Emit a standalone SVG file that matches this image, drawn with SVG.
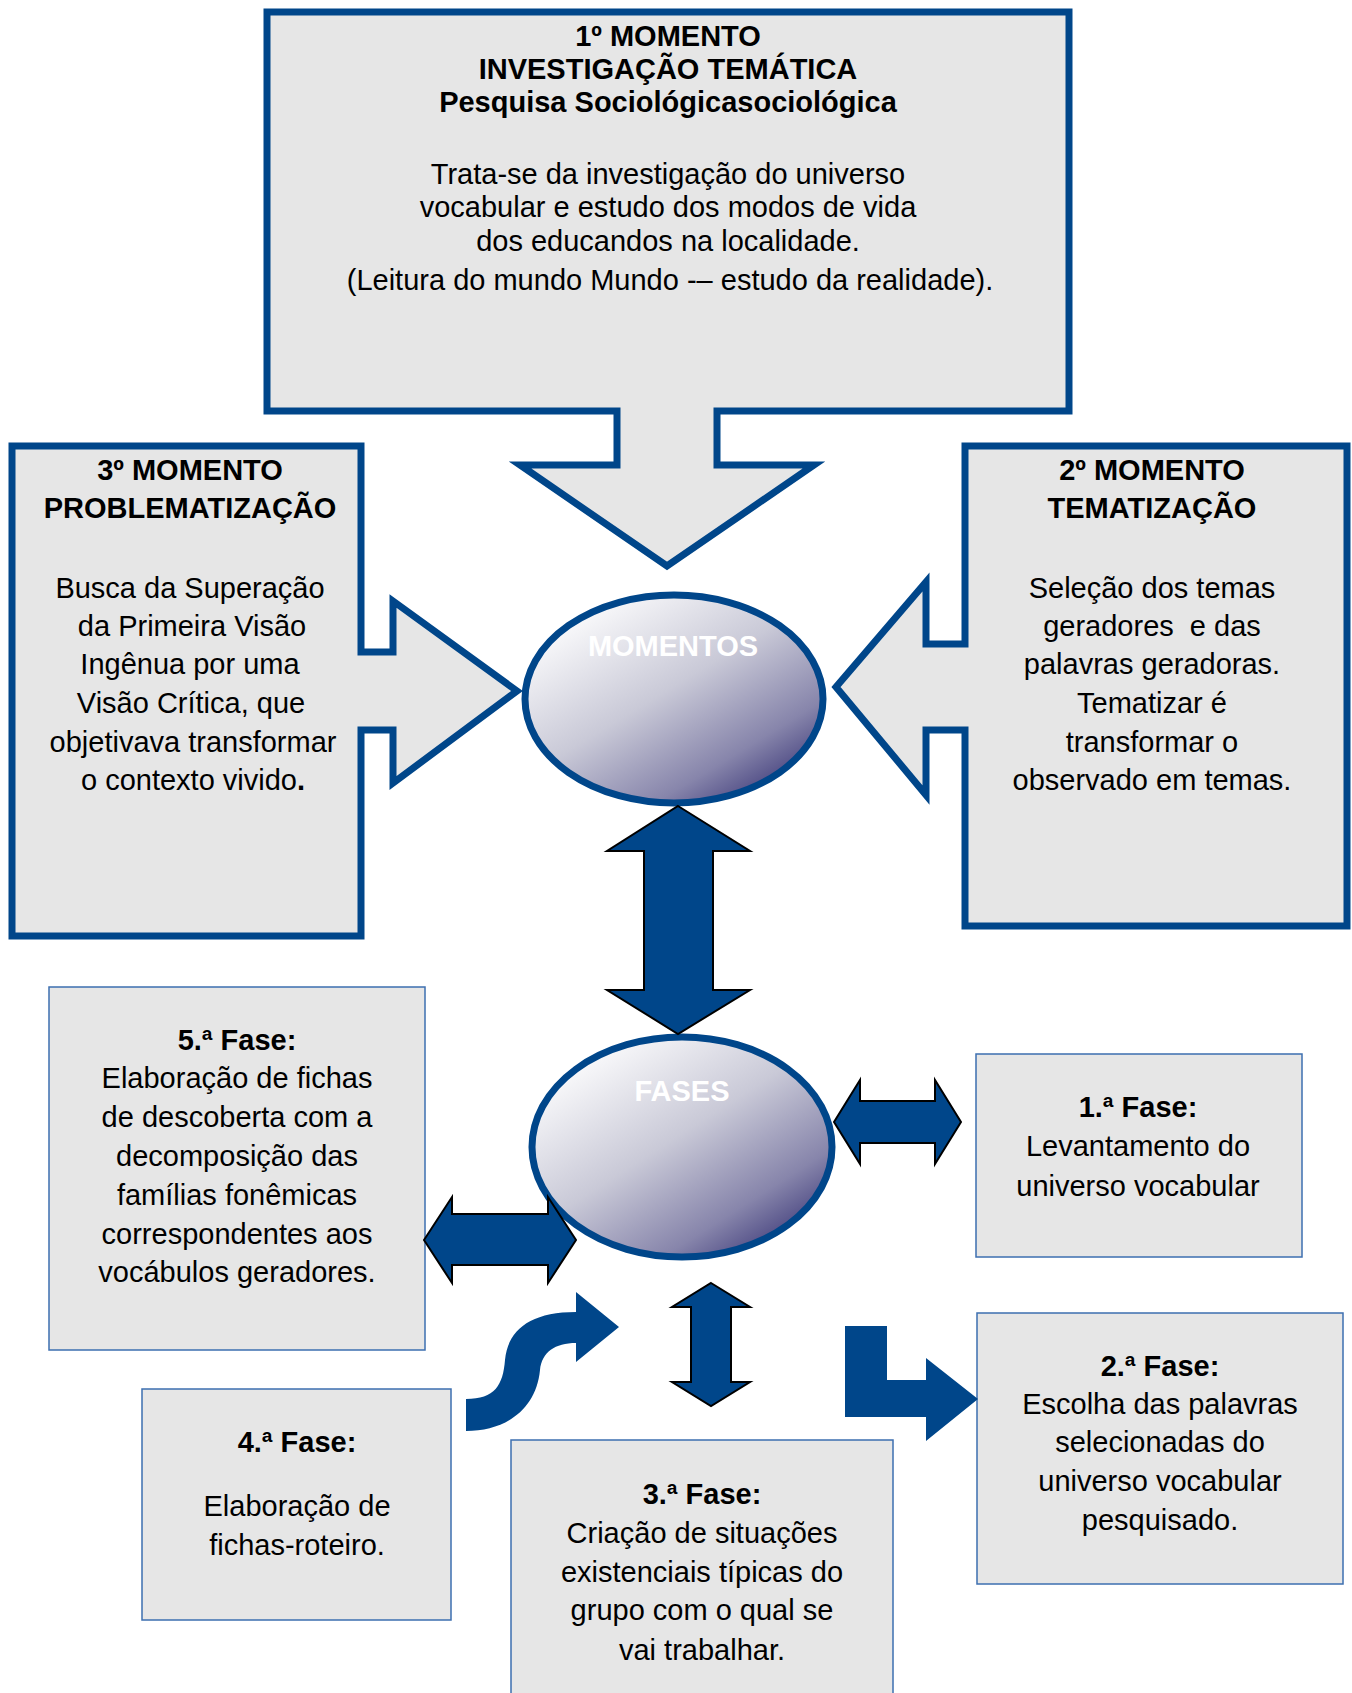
<svg xmlns="http://www.w3.org/2000/svg" width="1352" height="1693" viewBox="0 0 1352 1693">
<defs>
<linearGradient id="ellg" x1="0.12" y1="0.08" x2="0.88" y2="0.95">
<stop offset="0" stop-color="#ffffff"/>
<stop offset="0.45" stop-color="#c9c9d7"/>
<stop offset="0.78" stop-color="#8785ab"/>
<stop offset="1" stop-color="#3b3777"/>
</linearGradient>
<style>
.call{fill:#e6e6e6;stroke:#00468a;stroke-width:7;stroke-linejoin:miter;stroke-miterlimit:10}
.fase{fill:#e6e6e6;stroke:#3d6fb0;stroke-width:1.5}
.ell{fill:url(#ellg);stroke:#00468a;stroke-width:7}
.arr{fill:#00468a;stroke:#000;stroke-width:2;stroke-linejoin:miter}
.arrn{fill:#00468a;stroke:none}
text{font-family:"Liberation Sans",Arial,Helvetica,sans-serif;font-size:29px;fill:#000;text-anchor:middle}
.b{font-weight:bold}
.w{fill:#ffffff;font-weight:bold}
</style>
</defs>
<rect width="1352" height="1693" fill="#ffffff"/>

<g id="momento1">
<path class="call" d="M267,12 L1069,12 L1069,411 L717,411 L717,465 L814,465 L667,566 L520,465 L617,465 L617,411 L267,411 Z"/>
<text class="b" x="668" y="46">1º MOMENTO</text>
<text class="b" x="668" y="79">INVESTIGAÇÃO TEMÁTICA</text>
<text class="b" x="668" y="112">Pesquisa Sociológicasociológica</text>
<text x="668" y="184">Trata-se da investigação do universo</text>
<text x="668" y="217">vocabular e estudo dos modos de vida</text>
<text x="668" y="251">dos educandos na localidade.</text>
<text x="670" y="290">(Leitura do mundo Mundo -– estudo da realidade).</text>
</g>

<g id="momento3">
<path class="call" d="M12,446 L361,446 L361,652 L393,652 L393,601 L517,691 L393,783 L393,730 L361,730 L361,936 L12,936 Z"/>
<text class="b" x="190" y="480">3º MOMENTO</text>
<text class="b" x="190" y="518">PROBLEMATIZAÇÃO</text>
<text x="190" y="598">Busca da Superação</text>
<text x="192" y="636">da Primeira Visão</text>
<text x="190" y="674">Ingênua por uma</text>
<text x="191" y="713">Visão Crítica, que</text>
<text x="193" y="752">objetivava transformar</text>
<text x="193" y="790">o contexto vivido<tspan class="b">.</tspan></text>
</g>

<g id="momento2">
<path class="call" d="M965,446 L1347,446 L1347,926 L965,926 L965,730 L926,730 L926,795 L836,687 L926,582 L926,644 L965,644 Z"/>
<text class="b" x="1152" y="480">2º MOMENTO</text>
<text class="b" x="1152" y="518">TEMATIZAÇÃO</text>
<text x="1152" y="598">Seleção dos temas</text>
<text x="1152" y="636" xml:space="preserve">geradores  e das</text>
<text x="1152" y="674">palavras geradoras.</text>
<text x="1152" y="713">Tematizar é</text>
<text x="1152" y="752">transformar o</text>
<text x="1152" y="790">observado em temas.</text>
</g>

<g id="momentos">
<ellipse class="ell" cx="674" cy="699" rx="149" ry="104"/>
<text class="w" x="673" y="656">MOMENTOS</text>
</g>

<g id="fases">
<ellipse class="ell" cx="682" cy="1147" rx="150" ry="110"/>
<text class="w" x="682" y="1101">FASES</text>
</g>

<g id="fase5">
<rect class="fase" x="49" y="987" width="376" height="363"/>
<text class="b" x="237" y="1050">5.ª Fase:</text>
<text x="237" y="1088">Elaboração de fichas</text>
<text x="237" y="1127">de descoberta com a</text>
<text x="237" y="1166">decomposição das</text>
<text x="237" y="1205">famílias fonêmicas</text>
<text x="237" y="1244">correspondentes aos</text>
<text x="237" y="1282">vocábulos geradores.</text>
</g>

<g id="fase1">
<rect class="fase" x="976" y="1054" width="326" height="203"/>
<text class="b" x="1138" y="1117">1.ª Fase:</text>
<text x="1138" y="1156">Levantamento do</text>
<text x="1138" y="1196">universo vocabular</text>
</g>

<g id="fase4">
<rect class="fase" x="142" y="1389" width="309" height="231"/>
<text class="b" x="297" y="1452">4.ª Fase:</text>
<text x="297" y="1516">Elaboração de</text>
<text x="297" y="1555">fichas-roteiro.</text>
</g>

<g id="fase3">
<rect class="fase" x="511" y="1440" width="382" height="270"/>
<text class="b" x="702" y="1504">3.ª Fase:</text>
<text x="702" y="1543">Criação de situações</text>
<text x="702" y="1582">existenciais típicas do</text>
<text x="702" y="1620">grupo com o qual se</text>
<text x="702" y="1660">vai trabalhar.</text>
</g>

<g id="fase2">
<rect class="fase" x="977" y="1313" width="366" height="271"/>
<text class="b" x="1160" y="1376">2.ª Fase:</text>
<text x="1160" y="1414">Escolha das palavras</text>
<text x="1160" y="1452">selecionadas do</text>
<text x="1160" y="1491">universo vocabular</text>
<text x="1160" y="1530">pesquisado.</text>
</g>

<g id="connectors">
<path class="arr" d="M678,806 L750,851 L713,851 L713,990 L750,990 L678,1034 L607,990 L644,990 L644,851 L607,851 Z"/>
<path class="arr" d="M834,1122 L860,1080 L860,1101 L935,1101 L935,1080 L961,1122 L935,1164 L935,1143 L860,1143 L860,1164 Z"/>
<path class="arr" d="M424,1240 L452,1197 L452,1214 L548,1214 L548,1197 L576,1240 L548,1283 L548,1265 L452,1265 L452,1283 Z"/>
<path class="arr" d="M711,1283 L750,1307 L731,1307 L731,1382 L750,1382 L711,1406 L672,1382 L691,1382 L691,1307 L672,1307 Z"/>
<path class="arrn" d="M845,1326 L887,1326 L887,1380 L926,1380 L926,1358 L978,1399 L926,1441 L926,1417 L845,1417 Z"/>
<path class="arrn" d="M466,1399 C495,1399 503,1385 505,1360 C508,1330 530,1312 576,1312 L576,1292 L619,1327 L576,1362 L576,1343 C555,1343 542,1352 540,1370 C536,1410 505,1431 466,1431 Z"/>
</g>
</svg>
